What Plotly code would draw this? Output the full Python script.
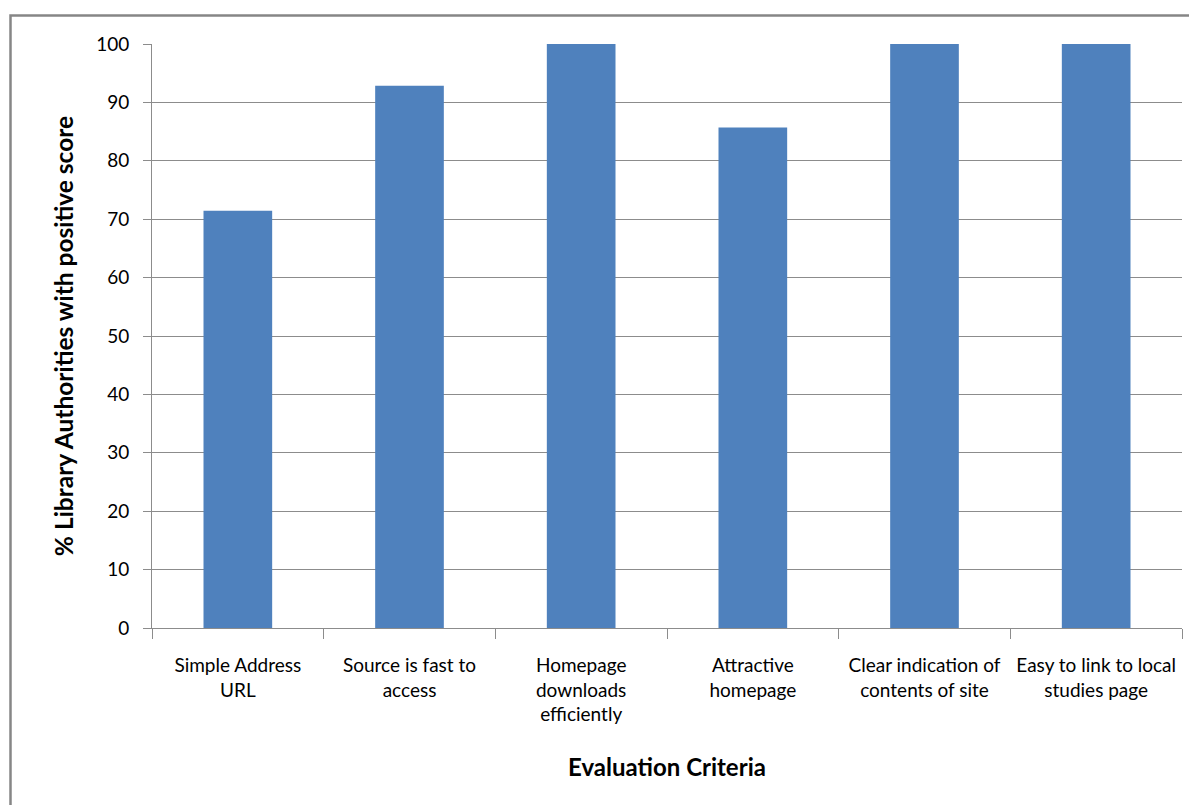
import plotly.graph_objects as go

categories = [
    "Simple Address<br>URL",
    "Source is fast to<br>access",
    "Homepage<br>downloads<br>efficiently",
    "Attractive<br>homepage",
    "Clear indication of<br>contents of site",
    "Easy to link to local<br>studies page",
]
values = [71.43, 92.86, 100, 85.71, 100, 100]
y_ticks = [0, 10, 20, 30, 40, 50, 60, 70, 80, 90, 100]

OFF = 8  # page body margin
W, H = 1197 - OFF, 805 - OFF
L, T = 152 - OFF, 44 - OFF
pw, ph = 1030, 584
R = W - L - pw
B = H - T - ph

def px_x(px):
    return (px - OFF - L) / pw

def px_y(py):
    return (T + ph - (py - OFF)) / ph

FONT = "Lato"

fig = go.Figure(go.Bar(
    x=categories, y=values, marker=dict(color="#4F81BD", line=dict(width=0)),
))

fig.update_layout(
    width=W, height=H,
    margin=dict(l=L, r=R, t=T, b=B),
    paper_bgcolor="white", plot_bgcolor="white",
    bargap=0.6,
    showlegend=False,
    font=dict(family=FONT, color="black", size=19),
    shapes=[dict(type="rect", xref="paper", yref="paper",
                 x0=px_x(10.5), x1=px_x(1220), y0=px_y(15.5), y1=px_y(830),
                 line=dict(color="#868686", width=2.5), layer="above")],
)

fig.update_yaxes(
    range=[0, 100], tickvals=y_ticks, ticktext=[str(v) for v in y_ticks],
    showgrid=True, gridcolor="#8C8C8C", gridwidth=1,
    showline=True, linecolor="#8C8C8C", linewidth=1,
    ticks="outside", ticklen=8, tickcolor="#8C8C8C",
    ticklabelstandoff=10,
    tickfont=dict(size=19, family=FONT),
    title=dict(text="<b>% Library Authorities with positive score</b>",
               font=dict(size=24.5, family=FONT), standoff=15),
    zeroline=False,
)
fig.update_xaxes(
    showline=True, linecolor="#8C8C8C", linewidth=1,
    ticks="outside", ticklen=10, tickcolor="#8C8C8C", tickson="boundaries",
    ticklabelstandoff=20,
    tickfont=dict(size=19, family=FONT),
    title=dict(text="<b>Evaluation Criteria</b>", font=dict(size=24, family=FONT), standoff=34),
    tickangle=0,
)

fig.write_html("out.html")
